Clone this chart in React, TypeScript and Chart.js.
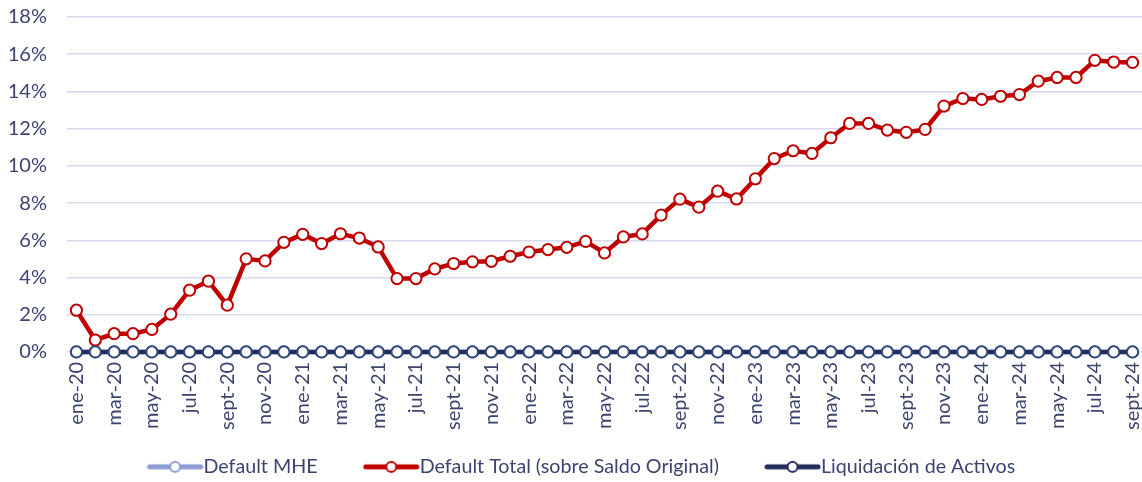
import React, { useEffect, useRef } from "react";
import { Chart, registerables } from "chart.js";

Chart.register(...registerables);

const months: string[] = [
  "ene-20","feb-20","mar-20","abr-20","may-20","jun-20","jul-20","ago-20","sept-20","oct-20","nov-20","dic-20",
  "ene-21","feb-21","mar-21","abr-21","may-21","jun-21","jul-21","ago-21","sept-21","oct-21","nov-21","dic-21",
  "ene-22","feb-22","mar-22","abr-22","may-22","jun-22","jul-22","ago-22","sept-22","oct-22","nov-22","dic-22",
  "ene-23","feb-23","mar-23","abr-23","may-23","jun-23","jul-23","ago-23","sept-23","oct-23","nov-23","dic-23",
  "ene-24","feb-24","mar-24","abr-24","may-24","jun-24","jul-24","ago-24","sept-24",
];

const defaultMHE: number[] = [
  0,0,0,0,0,0,0,0,0,0,0,0,
  0,0,0,0,0,0,0,0,0,0,0,0,
  0,0,0,0,0,0,0,0,0,0,0,0,
  0,0,0,0,0,0,0,0,0,0,0,0,
  0,0,0,0,0,0,0,0,0,
];

const defaultTotal: number[] = [
  2.24,0.64,0.98,0.98,1.21,2.03,3.32,3.8,2.51,5.0,4.89,5.89,
  6.32,5.82,6.35,6.12,5.64,3.94,3.94,4.46,4.75,4.84,4.87,5.14,
  5.37,5.5,5.62,5.94,5.32,6.18,6.34,7.35,8.21,7.78,8.64,8.22,
  9.3,10.39,10.81,10.67,11.51,12.28,12.28,11.92,11.8,11.96,13.21,13.62,
  13.57,13.74,13.83,14.55,14.75,14.75,15.67,15.58,15.56,
];

const liquidacion: number[] = [
  0,0,0,0,0,0,0,0,0,0,0,0,
  0,0,0,0,0,0,0,0,0,0,0,0,
  0,0,0,0,0,0,0,0,0,0,0,0,
  0,0,0,0,0,0,0,0,0,0,0,0,
  0,0,0,0,0,0,0,0,0,
];

const yTicks: number[] = [0, 2, 4, 6, 8, 10, 12, 14, 16, 18];

const FONT = "Lato";
const FONT_SIZE = 20;
const LEGEND_SIZE = 19.7;
const TEXT = "#3C4470";

// legend icon: blank lead-in gap, then line with circle
const LEG_GAP = 40;
const ICON_W = 57;
const BOX_W = LEG_GAP + ICON_W - LEGEND_SIZE / 2;
const CANVAS_W = Math.round(BOX_W + LEGEND_SIZE);

function legendIcon(line: string, border: string): HTMLCanvasElement {
  const c = document.createElement("canvas");
  c.width = CANVAS_W;
  c.height = 16;
  const ctx = c.getContext("2d")!;
  const x0 = CANVAS_W - ICON_W;
  ctx.strokeStyle = line;
  ctx.lineWidth = 5;
  ctx.lineCap = "round";
  ctx.beginPath();
  ctx.moveTo(x0 + 3, 8);
  ctx.lineTo(x0 + ICON_W - 3, 8);
  ctx.stroke();
  ctx.beginPath();
  ctx.arc(x0 + ICON_W / 2, 8, 5, 0, Math.PI * 2);
  ctx.fillStyle = "#ffffff";
  ctx.fill();
  ctx.lineWidth = 2;
  ctx.strokeStyle = border;
  ctx.stroke();
  return c;
}

const zeroPad = (scale: any) => {
  scale.paddingLeft = 0;
  scale.paddingRight = 0;
  scale.paddingTop = 0;
  scale.paddingBottom = 0;
};

const lineStyle = (color: string, pointBorder: string) => ({
  borderColor: color,
  backgroundColor: "#ffffff",
  borderWidth: 4.5,
  pointRadius: 5.6,
  pointBorderWidth: 2,
  pointBackgroundColor: "#ffffff",
  pointBorderColor: pointBorder,
  tension: 0,
  clip: false as const,
});

export default function App() {
  const ref = useRef<HTMLCanvasElement>(null);

  useEffect(() => {
    if (!ref.current) return;
    const icons = [
      legendIcon("#8E9CD4", "#8E9CD4"),
      legendIcon("#C00000", "#C00000"),
      legendIcon("#232B5B", "#232B5B"),
    ];
    const chart = new Chart(ref.current, {
      type: "line",
      data: {
        labels: months,
        datasets: [
          { label: "Default MHE", data: defaultMHE, ...lineStyle("#8E9CD4", "#8E9CD4"), order: 2 },
          { label: "Default Total (sobre Saldo Original)", data: defaultTotal, ...lineStyle("#C00000", "#C00000"), order: 1 },
          { label: "Liquidación de Activos", data: liquidacion, ...lineStyle("#232B5B", "#2E4A7C"), order: 0 },
        ],
      },
      options: {
        animation: false,
        responsive: true,
        maintainAspectRatio: false,
        layout: { autoPadding: false, padding: { top: 17, left: 10, right: 0, bottom: 0 } },
        plugins: {
          tooltip: { enabled: false },
          legend: {
            position: "bottom",
            maxHeight: 30,
            labels: {
              usePointStyle: true,
              pointStyleWidth: BOX_W,
              padding: 5,
              color: TEXT,
              font: { family: FONT, size: LEGEND_SIZE },
              generateLabels: (ch: any) =>
                ch.data.datasets.map((ds: any, i: number) => ({
                  // trailing blank on the last item nudges the centred row left
                  text: i === ch.data.datasets.length - 1 ? ds.label + "      " : ds.label,
                  pointStyle: icons[i],
                  datasetIndex: i,
                  hidden: false,
                  fontColor: TEXT,
                  lineWidth: 0,
                  strokeStyle: "transparent",
                  fillStyle: "transparent",
                })),
            },
          },
        },
        scales: {
          x: {
            offset: true,
            grid: { display: false, drawTicks: false },
            border: { display: false },
            ticks: {
              autoSkip: false,
              minRotation: 90,
              maxRotation: 90,
              padding: 10,
              color: TEXT,
              font: { family: FONT, size: FONT_SIZE },
              callback: (_v: any, i: number) => (i % 2 === 0 ? months[i] : null),
            },
            afterFit: (scale: any) => {
              scale.height = scale.height + 12;
              zeroPad(scale);
            },
          },
          y: {
            min: 0,
            max: 18,
            grid: { color: "#D6DAEE", lineWidth: 1.5, drawTicks: false },
            border: { display: false },
            afterBuildTicks: (scale: any) => {
              scale.ticks = yTicks.map((v) => ({ value: v }));
            },
            afterFit: (scale: any) => {
              scale.width = 57;
              zeroPad(scale);
            },
            ticks: {
              padding: 20,
              color: TEXT,
              font: { family: FONT, size: FONT_SIZE },
              callback: (v: any) => `${v}%`,
            },
          },
        },
      },
    });
    return () => chart.destroy();
  }, []);

  return (
    <div style={{ position: "fixed", left: 0, top: 0, width: 1142, height: 482, background: "#fff" }}>
      <canvas ref={ref} />
    </div>
  );
}
